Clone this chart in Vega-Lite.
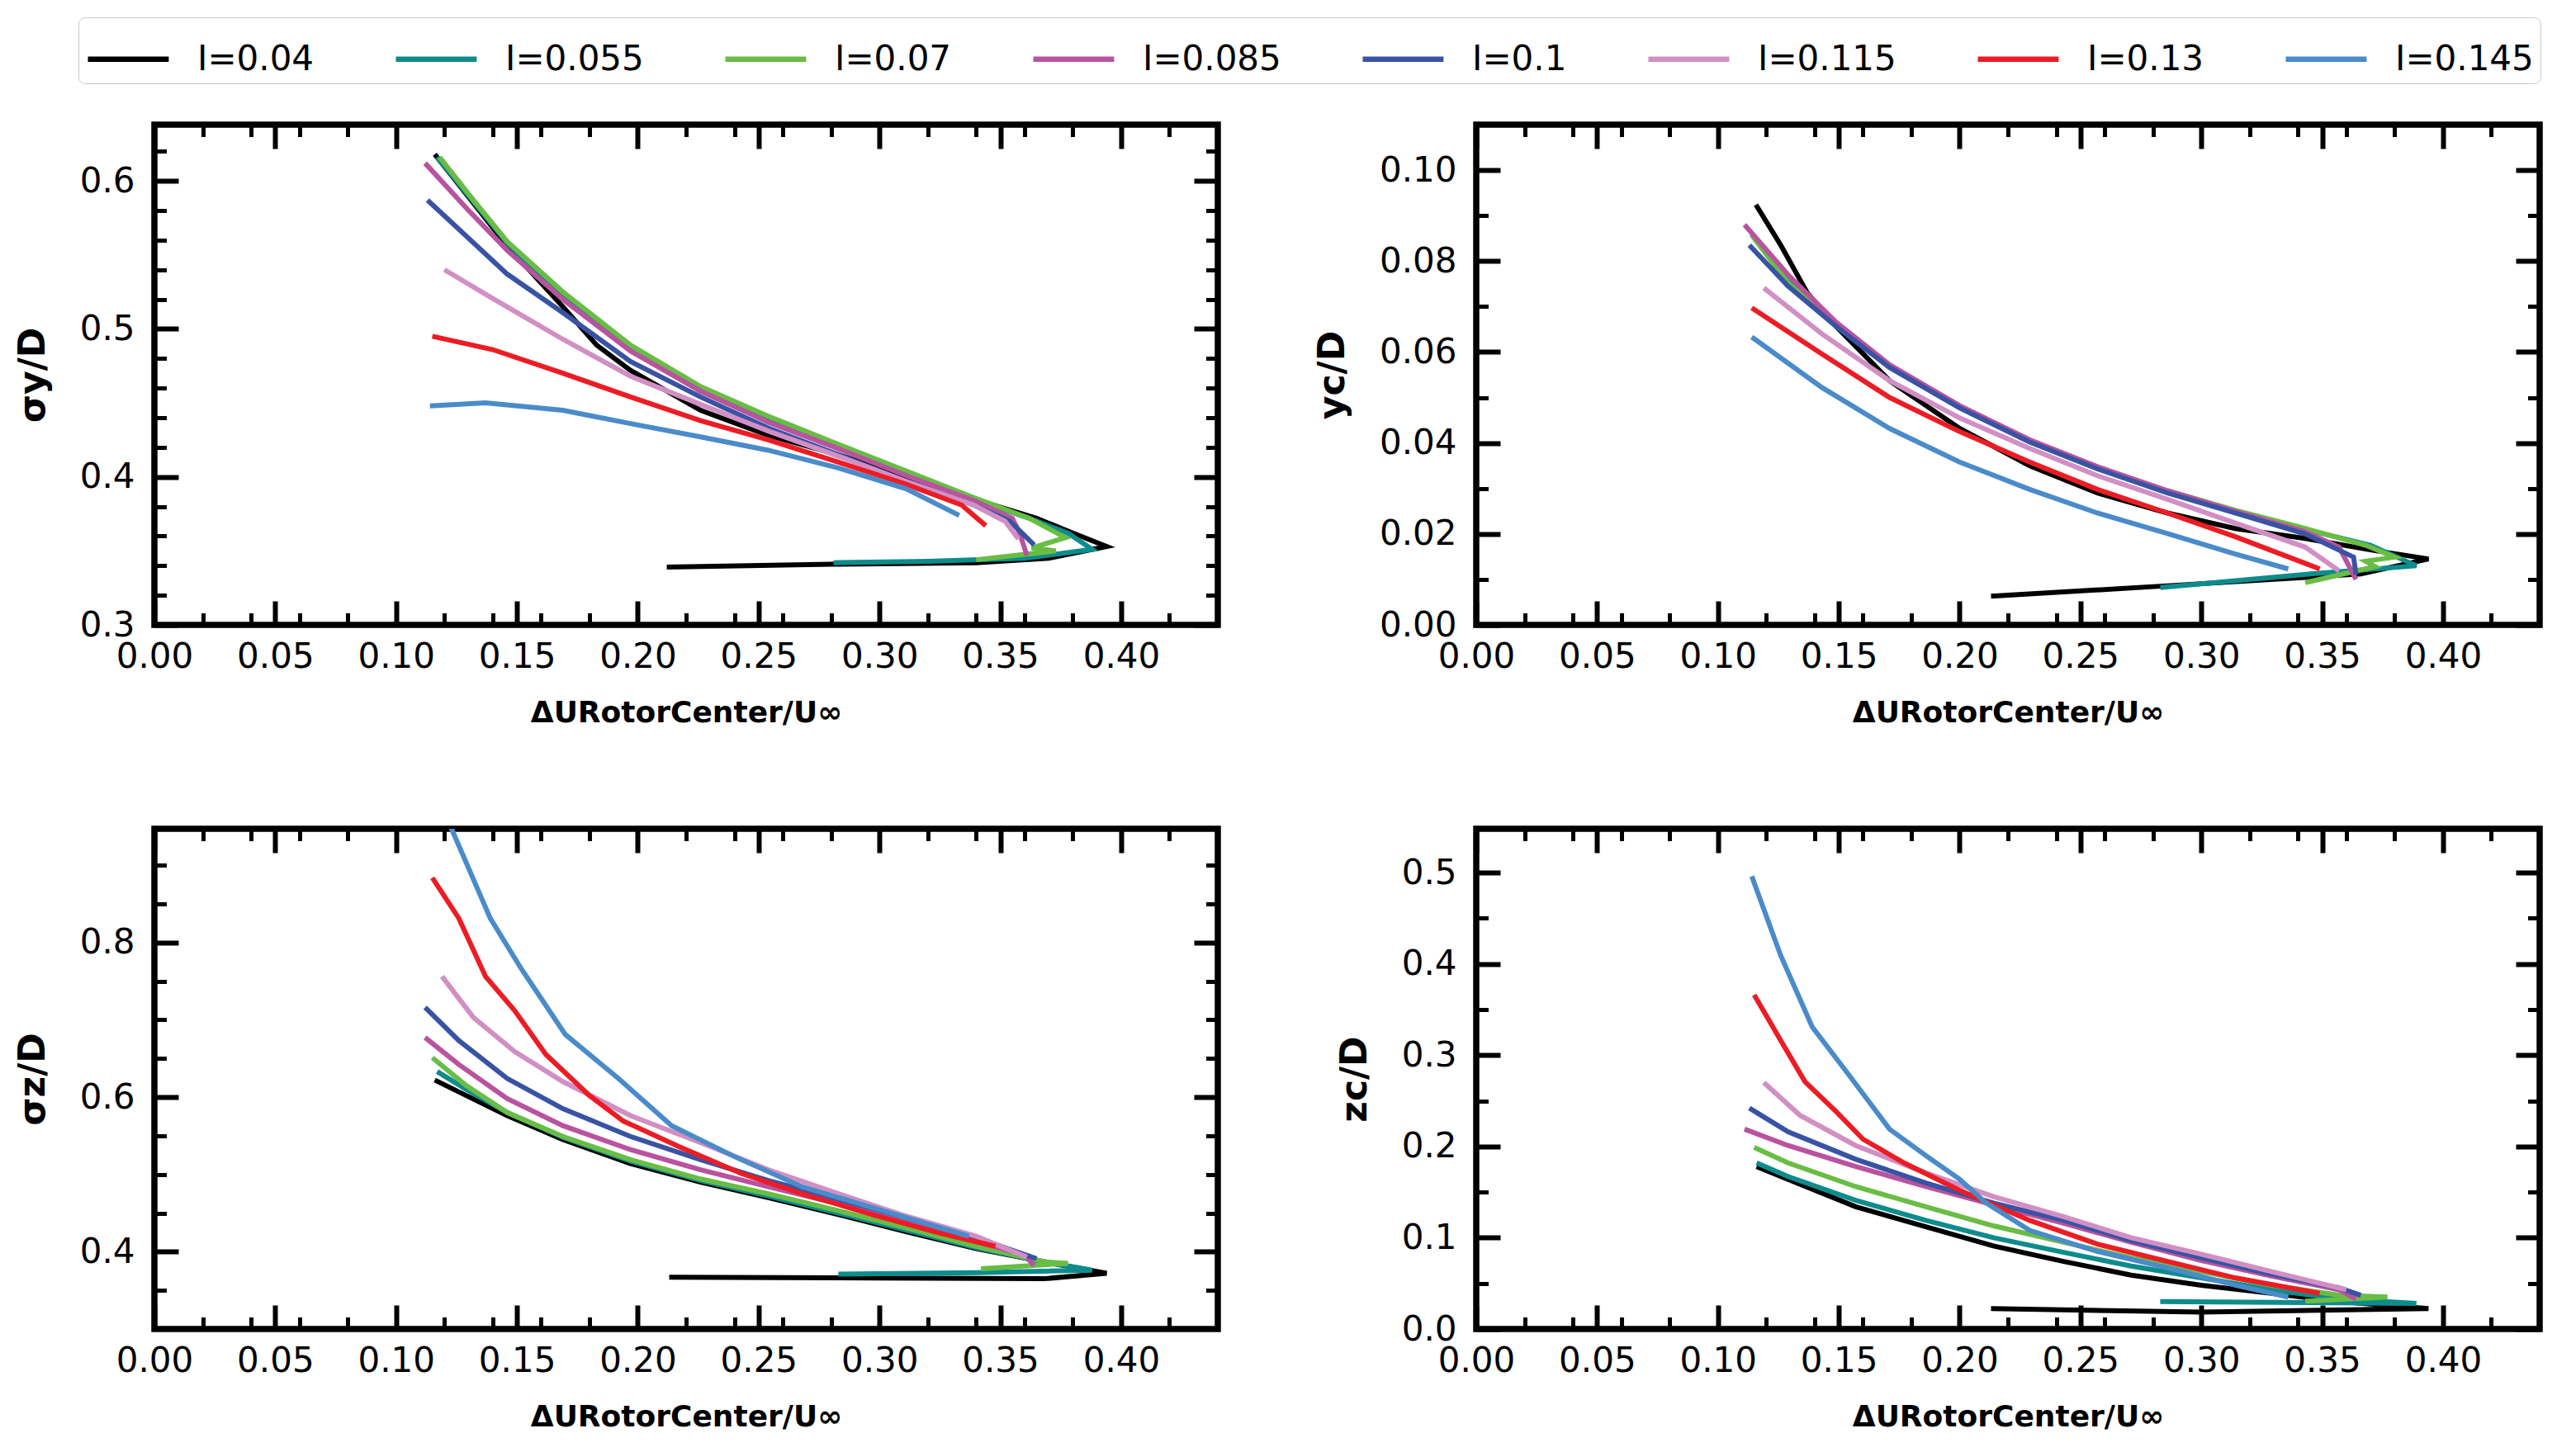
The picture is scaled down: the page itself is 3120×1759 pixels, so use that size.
{
"$schema": "https://vega.github.io/schema/vega-lite/v6.json",
"background": "white",
"padding": {"left": 14, "top": 20, "right": 0, "bottom": 0},
"data": {"values": [
{"p":"a","s":"I=0.04","k":0,"x":0.116,"y":0.618},{"p":"a","s":"I=0.04","k":1,"x":0.132,"y":0.585},{"p":"a","s":"I=0.04","k":2,"x":0.146,"y":0.556},{"p":"a","s":"I=0.04","k":3,"x":0.169,"y":0.515},{"p":"a","s":"I=0.04","k":4,"x":0.183,"y":0.489},{"p":"a","s":"I=0.04","k":5,"x":0.197,"y":0.472},{"p":"a","s":"I=0.04","k":6,"x":0.226,"y":0.445},{"p":"a","s":"I=0.04","k":7,"x":0.254,"y":0.428},{"p":"a","s":"I=0.04","k":8,"x":0.283,"y":0.415},{"p":"a","s":"I=0.04","k":9,"x":0.311,"y":0.4},{"p":"a","s":"I=0.04","k":10,"x":0.339,"y":0.385},{"p":"a","s":"I=0.04","k":11,"x":0.365,"y":0.372},{"p":"a","s":"I=0.04","k":12,"x":0.38,"y":0.362},{"p":"a","s":"I=0.04","k":13,"x":0.394,"y":0.353},{"p":"a","s":"I=0.04","k":14,"x":0.37,"y":0.345},{"p":"a","s":"I=0.04","k":15,"x":0.34,"y":0.342},{"p":"a","s":"I=0.04","k":16,"x":0.28,"y":0.341},{"p":"a","s":"I=0.04","k":17,"x":0.212,"y":0.339},
{"p":"a","s":"I=0.055","k":0,"x":0.117,"y":0.616},{"p":"a","s":"I=0.055","k":1,"x":0.132,"y":0.586},{"p":"a","s":"I=0.055","k":2,"x":0.146,"y":0.558},{"p":"a","s":"I=0.055","k":3,"x":0.169,"y":0.522},{"p":"a","s":"I=0.055","k":4,"x":0.197,"y":0.486},{"p":"a","s":"I=0.055","k":5,"x":0.226,"y":0.458},{"p":"a","s":"I=0.055","k":6,"x":0.254,"y":0.438},{"p":"a","s":"I=0.055","k":7,"x":0.283,"y":0.42},{"p":"a","s":"I=0.055","k":8,"x":0.311,"y":0.402},{"p":"a","s":"I=0.055","k":9,"x":0.339,"y":0.385},{"p":"a","s":"I=0.055","k":10,"x":0.362,"y":0.372},{"p":"a","s":"I=0.055","k":11,"x":0.378,"y":0.362},{"p":"a","s":"I=0.055","k":12,"x":0.388,"y":0.351},{"p":"a","s":"I=0.055","k":13,"x":0.36,"y":0.345},{"p":"a","s":"I=0.055","k":14,"x":0.32,"y":0.343},{"p":"a","s":"I=0.055","k":15,"x":0.281,"y":0.342},
{"p":"a","s":"I=0.07","k":0,"x":0.118,"y":0.616},{"p":"a","s":"I=0.07","k":1,"x":0.132,"y":0.587},{"p":"a","s":"I=0.07","k":2,"x":0.146,"y":0.559},{"p":"a","s":"I=0.07","k":3,"x":0.169,"y":0.525},{"p":"a","s":"I=0.07","k":4,"x":0.197,"y":0.489},{"p":"a","s":"I=0.07","k":5,"x":0.226,"y":0.461},{"p":"a","s":"I=0.07","k":6,"x":0.254,"y":0.441},{"p":"a","s":"I=0.07","k":7,"x":0.283,"y":0.422},{"p":"a","s":"I=0.07","k":8,"x":0.311,"y":0.404},{"p":"a","s":"I=0.07","k":9,"x":0.339,"y":0.386},{"p":"a","s":"I=0.07","k":10,"x":0.362,"y":0.372},{"p":"a","s":"I=0.07","k":11,"x":0.377,"y":0.359},{"p":"a","s":"I=0.07","k":12,"x":0.363,"y":0.352},{"p":"a","s":"I=0.07","k":13,"x":0.373,"y":0.35},{"p":"a","s":"I=0.07","k":14,"x":0.34,"y":0.344},
{"p":"a","s":"I=0.085","k":0,"x":0.112,"y":0.612},{"p":"a","s":"I=0.085","k":1,"x":0.13,"y":0.58},{"p":"a","s":"I=0.085","k":2,"x":0.146,"y":0.553},{"p":"a","s":"I=0.085","k":3,"x":0.169,"y":0.52},{"p":"a","s":"I=0.085","k":4,"x":0.197,"y":0.485},{"p":"a","s":"I=0.085","k":5,"x":0.226,"y":0.458},{"p":"a","s":"I=0.085","k":6,"x":0.254,"y":0.437},{"p":"a","s":"I=0.085","k":7,"x":0.283,"y":0.419},{"p":"a","s":"I=0.085","k":8,"x":0.311,"y":0.401},{"p":"a","s":"I=0.085","k":9,"x":0.339,"y":0.384},{"p":"a","s":"I=0.085","k":10,"x":0.355,"y":0.372},{"p":"a","s":"I=0.085","k":11,"x":0.358,"y":0.362},{"p":"a","s":"I=0.085","k":12,"x":0.361,"y":0.347},
{"p":"a","s":"I=0.1","k":0,"x":0.113,"y":0.587},{"p":"a","s":"I=0.1","k":1,"x":0.146,"y":0.537},{"p":"a","s":"I=0.1","k":2,"x":0.169,"y":0.511},{"p":"a","s":"I=0.1","k":3,"x":0.197,"y":0.478},{"p":"a","s":"I=0.1","k":4,"x":0.226,"y":0.454},{"p":"a","s":"I=0.1","k":5,"x":0.254,"y":0.433},{"p":"a","s":"I=0.1","k":6,"x":0.283,"y":0.415},{"p":"a","s":"I=0.1","k":7,"x":0.311,"y":0.397},{"p":"a","s":"I=0.1","k":8,"x":0.339,"y":0.381},{"p":"a","s":"I=0.1","k":9,"x":0.354,"y":0.37},{"p":"a","s":"I=0.1","k":10,"x":0.364,"y":0.354},
{"p":"a","s":"I=0.115","k":0,"x":0.12,"y":0.54},{"p":"a","s":"I=0.115","k":1,"x":0.14,"y":0.5205},{"p":"a","s":"I=0.115","k":2,"x":0.169,"y":0.493},{"p":"a","s":"I=0.115","k":3,"x":0.197,"y":0.468},{"p":"a","s":"I=0.115","k":4,"x":0.226,"y":0.449},{"p":"a","s":"I=0.115","k":5,"x":0.254,"y":0.431},{"p":"a","s":"I=0.115","k":6,"x":0.283,"y":0.414},{"p":"a","s":"I=0.115","k":7,"x":0.311,"y":0.397},{"p":"a","s":"I=0.115","k":8,"x":0.339,"y":0.381},{"p":"a","s":"I=0.115","k":9,"x":0.352,"y":0.37},{"p":"a","s":"I=0.115","k":10,"x":0.3575,"y":0.358},
{"p":"a","s":"I=0.13","k":0,"x":0.115,"y":0.495},{"p":"a","s":"I=0.13","k":1,"x":0.14,"y":0.486},{"p":"a","s":"I=0.13","k":2,"x":0.169,"y":0.47},{"p":"a","s":"I=0.13","k":3,"x":0.197,"y":0.454},{"p":"a","s":"I=0.13","k":4,"x":0.226,"y":0.438},{"p":"a","s":"I=0.13","k":5,"x":0.254,"y":0.425},{"p":"a","s":"I=0.13","k":6,"x":0.283,"y":0.41},{"p":"a","s":"I=0.13","k":7,"x":0.311,"y":0.395},{"p":"a","s":"I=0.13","k":8,"x":0.334,"y":0.381},{"p":"a","s":"I=0.13","k":9,"x":0.344,"y":0.367},
{"p":"a","s":"I=0.145","k":0,"x":0.114,"y":0.448},{"p":"a","s":"I=0.145","k":1,"x":0.137,"y":0.45},{"p":"a","s":"I=0.145","k":2,"x":0.169,"y":0.445},{"p":"a","s":"I=0.145","k":3,"x":0.197,"y":0.436},{"p":"a","s":"I=0.145","k":4,"x":0.226,"y":0.427},{"p":"a","s":"I=0.145","k":5,"x":0.254,"y":0.418},{"p":"a","s":"I=0.145","k":6,"x":0.283,"y":0.406},{"p":"a","s":"I=0.145","k":7,"x":0.311,"y":0.392},{"p":"a","s":"I=0.145","k":8,"x":0.333,"y":0.374},

{"p":"b","s":"I=0.04","k":0,"x":0.1157,"y":0.0924},{"p":"b","s":"I=0.04","k":1,"x":0.126,"y":0.0835},{"p":"b","s":"I=0.04","k":2,"x":0.137,"y":0.073},{"p":"b","s":"I=0.04","k":3,"x":0.149,"y":0.0656},{"p":"b","s":"I=0.04","k":4,"x":0.171,"y":0.0537},{"p":"b","s":"I=0.04","k":5,"x":0.2,"y":0.0432},{"p":"b","s":"I=0.04","k":6,"x":0.229,"y":0.035},{"p":"b","s":"I=0.04","k":7,"x":0.257,"y":0.029},{"p":"b","s":"I=0.04","k":8,"x":0.286,"y":0.0246},{"p":"b","s":"I=0.04","k":9,"x":0.314,"y":0.0212},{"p":"b","s":"I=0.04","k":10,"x":0.343,"y":0.019},{"p":"b","s":"I=0.04","k":11,"x":0.371,"y":0.0164},{"p":"b","s":"I=0.04","k":12,"x":0.394,"y":0.0145},{"p":"b","s":"I=0.04","k":13,"x":0.366,"y":0.0112},{"p":"b","s":"I=0.04","k":14,"x":0.286,"y":0.0086},{"p":"b","s":"I=0.04","k":15,"x":0.213,"y":0.0063},
{"p":"b","s":"I=0.055","k":0,"x":0.114,"y":0.086},{"p":"b","s":"I=0.055","k":1,"x":0.129,"y":0.0755},{"p":"b","s":"I=0.055","k":2,"x":0.149,"y":0.066},{"p":"b","s":"I=0.055","k":3,"x":0.171,"y":0.0568},{"p":"b","s":"I=0.055","k":4,"x":0.2,"y":0.0478},{"p":"b","s":"I=0.055","k":5,"x":0.229,"y":0.0403},{"p":"b","s":"I=0.055","k":6,"x":0.257,"y":0.0345},{"p":"b","s":"I=0.055","k":7,"x":0.286,"y":0.0293},{"p":"b","s":"I=0.055","k":8,"x":0.314,"y":0.025},{"p":"b","s":"I=0.055","k":9,"x":0.343,"y":0.021},{"p":"b","s":"I=0.055","k":10,"x":0.37,"y":0.0175},{"p":"b","s":"I=0.055","k":11,"x":0.389,"y":0.013},{"p":"b","s":"I=0.055","k":12,"x":0.345,"y":0.0112},{"p":"b","s":"I=0.055","k":13,"x":0.283,"y":0.0082},
{"p":"b","s":"I=0.07","k":0,"x":0.114,"y":0.0857},{"p":"b","s":"I=0.07","k":1,"x":0.129,"y":0.0752},{"p":"b","s":"I=0.07","k":2,"x":0.149,"y":0.066},{"p":"b","s":"I=0.07","k":3,"x":0.171,"y":0.057},{"p":"b","s":"I=0.07","k":4,"x":0.2,"y":0.048},{"p":"b","s":"I=0.07","k":5,"x":0.229,"y":0.0405},{"p":"b","s":"I=0.07","k":6,"x":0.257,"y":0.0347},{"p":"b","s":"I=0.07","k":7,"x":0.286,"y":0.0295},{"p":"b","s":"I=0.07","k":8,"x":0.314,"y":0.0252},{"p":"b","s":"I=0.07","k":9,"x":0.343,"y":0.0212},{"p":"b","s":"I=0.07","k":10,"x":0.368,"y":0.0175},{"p":"b","s":"I=0.07","k":11,"x":0.38,"y":0.0149},{"p":"b","s":"I=0.07","k":12,"x":0.368,"y":0.014},{"p":"b","s":"I=0.07","k":13,"x":0.372,"y":0.0128},{"p":"b","s":"I=0.07","k":14,"x":0.343,"y":0.0093},
{"p":"b","s":"I=0.085","k":0,"x":0.111,"y":0.088},{"p":"b","s":"I=0.085","k":1,"x":0.129,"y":0.077},{"p":"b","s":"I=0.085","k":2,"x":0.149,"y":0.0665},{"p":"b","s":"I=0.085","k":3,"x":0.171,"y":0.0572},{"p":"b","s":"I=0.085","k":4,"x":0.2,"y":0.0482},{"p":"b","s":"I=0.085","k":5,"x":0.229,"y":0.0407},{"p":"b","s":"I=0.085","k":6,"x":0.257,"y":0.0348},{"p":"b","s":"I=0.085","k":7,"x":0.286,"y":0.0295},{"p":"b","s":"I=0.085","k":8,"x":0.314,"y":0.025},{"p":"b","s":"I=0.085","k":9,"x":0.343,"y":0.0205},{"p":"b","s":"I=0.085","k":10,"x":0.357,"y":0.0171},{"p":"b","s":"I=0.085","k":11,"x":0.364,"y":0.01},
{"p":"b","s":"I=0.1","k":0,"x":0.113,"y":0.0835},{"p":"b","s":"I=0.1","k":1,"x":0.129,"y":0.0745},{"p":"b","s":"I=0.1","k":2,"x":0.149,"y":0.0656},{"p":"b","s":"I=0.1","k":3,"x":0.171,"y":0.0566},{"p":"b","s":"I=0.1","k":4,"x":0.2,"y":0.0477},{"p":"b","s":"I=0.1","k":5,"x":0.229,"y":0.0402},{"p":"b","s":"I=0.1","k":6,"x":0.257,"y":0.0343},{"p":"b","s":"I=0.1","k":7,"x":0.286,"y":0.029},{"p":"b","s":"I=0.1","k":8,"x":0.314,"y":0.0246},{"p":"b","s":"I=0.1","k":9,"x":0.343,"y":0.02},{"p":"b","s":"I=0.1","k":10,"x":0.363,"y":0.0149},{"p":"b","s":"I=0.1","k":11,"x":0.364,"y":0.0111},
{"p":"b","s":"I=0.115","k":0,"x":0.119,"y":0.0741},{"p":"b","s":"I=0.115","k":1,"x":0.143,"y":0.064},{"p":"b","s":"I=0.115","k":2,"x":0.171,"y":0.0537},{"p":"b","s":"I=0.115","k":3,"x":0.2,"y":0.0455},{"p":"b","s":"I=0.115","k":4,"x":0.229,"y":0.0388},{"p":"b","s":"I=0.115","k":5,"x":0.257,"y":0.0328},{"p":"b","s":"I=0.115","k":6,"x":0.286,"y":0.0276},{"p":"b","s":"I=0.115","k":7,"x":0.314,"y":0.0224},{"p":"b","s":"I=0.115","k":8,"x":0.343,"y":0.0171},{"p":"b","s":"I=0.115","k":9,"x":0.357,"y":0.0119},
{"p":"b","s":"I=0.13","k":0,"x":0.114,"y":0.0697},{"p":"b","s":"I=0.13","k":1,"x":0.143,"y":0.0596},{"p":"b","s":"I=0.13","k":2,"x":0.171,"y":0.05},{"p":"b","s":"I=0.13","k":3,"x":0.2,"y":0.0425},{"p":"b","s":"I=0.13","k":4,"x":0.229,"y":0.0358},{"p":"b","s":"I=0.13","k":5,"x":0.257,"y":0.0298},{"p":"b","s":"I=0.13","k":6,"x":0.286,"y":0.0246},{"p":"b","s":"I=0.13","k":7,"x":0.314,"y":0.0194},{"p":"b","s":"I=0.13","k":8,"x":0.349,"y":0.0123},
{"p":"b","s":"I=0.145","k":0,"x":0.114,"y":0.0633},{"p":"b","s":"I=0.145","k":1,"x":0.143,"y":0.0522},{"p":"b","s":"I=0.145","k":2,"x":0.171,"y":0.0432},{"p":"b","s":"I=0.145","k":3,"x":0.2,"y":0.0358},{"p":"b","s":"I=0.145","k":4,"x":0.229,"y":0.0298},{"p":"b","s":"I=0.145","k":5,"x":0.257,"y":0.0246},{"p":"b","s":"I=0.145","k":6,"x":0.286,"y":0.0201},{"p":"b","s":"I=0.145","k":7,"x":0.314,"y":0.0156},{"p":"b","s":"I=0.145","k":8,"x":0.336,"y":0.0123},

{"p":"c","s":"I=0.04","k":0,"x":0.116,"y":0.622},{"p":"c","s":"I=0.04","k":1,"x":0.129,"y":0.602},{"p":"c","s":"I=0.04","k":2,"x":0.146,"y":0.576},{"p":"c","s":"I=0.04","k":3,"x":0.169,"y":0.545},{"p":"c","s":"I=0.04","k":4,"x":0.197,"y":0.514},{"p":"c","s":"I=0.04","k":5,"x":0.226,"y":0.49},{"p":"c","s":"I=0.04","k":6,"x":0.254,"y":0.47},{"p":"c","s":"I=0.04","k":7,"x":0.283,"y":0.448},{"p":"c","s":"I=0.04","k":8,"x":0.311,"y":0.426},{"p":"c","s":"I=0.04","k":9,"x":0.34,"y":0.404},{"p":"c","s":"I=0.04","k":10,"x":0.368,"y":0.387},{"p":"c","s":"I=0.04","k":11,"x":0.394,"y":0.372},{"p":"c","s":"I=0.04","k":12,"x":0.368,"y":0.365},{"p":"c","s":"I=0.04","k":13,"x":0.3,"y":0.366},{"p":"c","s":"I=0.04","k":14,"x":0.213,"y":0.367},
{"p":"c","s":"I=0.055","k":0,"x":0.117,"y":0.633},{"p":"c","s":"I=0.055","k":1,"x":0.129,"y":0.61},{"p":"c","s":"I=0.055","k":2,"x":0.146,"y":0.58},{"p":"c","s":"I=0.055","k":3,"x":0.169,"y":0.548},{"p":"c","s":"I=0.055","k":4,"x":0.197,"y":0.517},{"p":"c","s":"I=0.055","k":5,"x":0.226,"y":0.492},{"p":"c","s":"I=0.055","k":6,"x":0.254,"y":0.472},{"p":"c","s":"I=0.055","k":7,"x":0.283,"y":0.45},{"p":"c","s":"I=0.055","k":8,"x":0.311,"y":0.428},{"p":"c","s":"I=0.055","k":9,"x":0.34,"y":0.405},{"p":"c","s":"I=0.055","k":10,"x":0.368,"y":0.387},{"p":"c","s":"I=0.055","k":11,"x":0.388,"y":0.376},{"p":"c","s":"I=0.055","k":12,"x":0.34,"y":0.373},{"p":"c","s":"I=0.055","k":13,"x":0.283,"y":0.371},
{"p":"c","s":"I=0.07","k":0,"x":0.115,"y":0.651},{"p":"c","s":"I=0.07","k":1,"x":0.129,"y":0.615},{"p":"c","s":"I=0.07","k":2,"x":0.146,"y":0.58},{"p":"c","s":"I=0.07","k":3,"x":0.169,"y":0.549},{"p":"c","s":"I=0.07","k":4,"x":0.197,"y":0.519},{"p":"c","s":"I=0.07","k":5,"x":0.226,"y":0.494},{"p":"c","s":"I=0.07","k":6,"x":0.254,"y":0.475},{"p":"c","s":"I=0.07","k":7,"x":0.283,"y":0.453},{"p":"c","s":"I=0.07","k":8,"x":0.311,"y":0.431},{"p":"c","s":"I=0.07","k":9,"x":0.34,"y":0.407},{"p":"c","s":"I=0.07","k":10,"x":0.368,"y":0.387},{"p":"c","s":"I=0.07","k":11,"x":0.378,"y":0.385},{"p":"c","s":"I=0.07","k":12,"x":0.342,"y":0.378},
{"p":"c","s":"I=0.085","k":0,"x":0.112,"y":0.677},{"p":"c","s":"I=0.085","k":1,"x":0.126,"y":0.642},{"p":"c","s":"I=0.085","k":2,"x":0.146,"y":0.598},{"p":"c","s":"I=0.085","k":3,"x":0.169,"y":0.563},{"p":"c","s":"I=0.085","k":4,"x":0.197,"y":0.532},{"p":"c","s":"I=0.085","k":5,"x":0.226,"y":0.506},{"p":"c","s":"I=0.085","k":6,"x":0.254,"y":0.484},{"p":"c","s":"I=0.085","k":7,"x":0.283,"y":0.462},{"p":"c","s":"I=0.085","k":8,"x":0.311,"y":0.44},{"p":"c","s":"I=0.085","k":9,"x":0.34,"y":0.413},{"p":"c","s":"I=0.085","k":10,"x":0.36,"y":0.396},{"p":"c","s":"I=0.085","k":11,"x":0.364,"y":0.382},
{"p":"c","s":"I=0.1","k":0,"x":0.112,"y":0.716},{"p":"c","s":"I=0.1","k":1,"x":0.126,"y":0.673},{"p":"c","s":"I=0.1","k":2,"x":0.146,"y":0.624},{"p":"c","s":"I=0.1","k":3,"x":0.169,"y":0.585},{"p":"c","s":"I=0.1","k":4,"x":0.197,"y":0.549},{"p":"c","s":"I=0.1","k":5,"x":0.226,"y":0.519},{"p":"c","s":"I=0.1","k":6,"x":0.254,"y":0.492},{"p":"c","s":"I=0.1","k":7,"x":0.283,"y":0.468},{"p":"c","s":"I=0.1","k":8,"x":0.311,"y":0.444},{"p":"c","s":"I=0.1","k":9,"x":0.34,"y":0.418},{"p":"c","s":"I=0.1","k":10,"x":0.365,"y":0.391},
{"p":"c","s":"I=0.115","k":0,"x":0.119,"y":0.756},{"p":"c","s":"I=0.115","k":1,"x":0.132,"y":0.703},{"p":"c","s":"I=0.115","k":2,"x":0.149,"y":0.659},{"p":"c","s":"I=0.115","k":3,"x":0.169,"y":0.62},{"p":"c","s":"I=0.115","k":4,"x":0.197,"y":0.576},{"p":"c","s":"I=0.115","k":5,"x":0.226,"y":0.541},{"p":"c","s":"I=0.115","k":6,"x":0.254,"y":0.506},{"p":"c","s":"I=0.115","k":7,"x":0.283,"y":0.475},{"p":"c","s":"I=0.115","k":8,"x":0.311,"y":0.446},{"p":"c","s":"I=0.115","k":9,"x":0.34,"y":0.42},{"p":"c","s":"I=0.115","k":10,"x":0.361,"y":0.393},
{"p":"c","s":"I=0.13","k":0,"x":0.115,"y":0.8835},{"p":"c","s":"I=0.13","k":1,"x":0.126,"y":0.831},{"p":"c","s":"I=0.13","k":2,"x":0.137,"y":0.756},{"p":"c","s":"I=0.13","k":3,"x":0.149,"y":0.712},{"p":"c","s":"I=0.13","k":4,"x":0.162,"y":0.655},{"p":"c","s":"I=0.13","k":5,"x":0.18,"y":0.602},{"p":"c","s":"I=0.13","k":6,"x":0.194,"y":0.569},{"p":"c","s":"I=0.13","k":7,"x":0.217,"y":0.536},{"p":"c","s":"I=0.13","k":8,"x":0.243,"y":0.501},{"p":"c","s":"I=0.13","k":9,"x":0.268,"y":0.475},{"p":"c","s":"I=0.13","k":10,"x":0.297,"y":0.448},{"p":"c","s":"I=0.13","k":11,"x":0.325,"y":0.424},{"p":"c","s":"I=0.13","k":12,"x":0.348,"y":0.407},
{"p":"c","s":"I=0.145","k":0,"x":0.117,"y":0.99},{"p":"c","s":"I=0.145","k":1,"x":0.139,"y":0.831},{"p":"c","s":"I=0.145","k":2,"x":0.152,"y":0.765},{"p":"c","s":"I=0.145","k":3,"x":0.17,"y":0.681},{"p":"c","s":"I=0.145","k":4,"x":0.192,"y":0.624},{"p":"c","s":"I=0.145","k":5,"x":0.214,"y":0.563},{"p":"c","s":"I=0.145","k":6,"x":0.24,"y":0.523},{"p":"c","s":"I=0.145","k":7,"x":0.268,"y":0.484},{"p":"c","s":"I=0.145","k":8,"x":0.297,"y":0.457},{"p":"c","s":"I=0.145","k":9,"x":0.337,"y":0.42},

{"p":"d","s":"I=0.04","k":0,"x":0.116,"y":0.178},{"p":"d","s":"I=0.04","k":1,"x":0.129,"y":0.164},{"p":"d","s":"I=0.04","k":2,"x":0.157,"y":0.134},{"p":"d","s":"I=0.04","k":3,"x":0.186,"y":0.112},{"p":"d","s":"I=0.04","k":4,"x":0.214,"y":0.091},{"p":"d","s":"I=0.04","k":5,"x":0.243,"y":0.074},{"p":"d","s":"I=0.04","k":6,"x":0.271,"y":0.059},{"p":"d","s":"I=0.04","k":7,"x":0.3,"y":0.048},{"p":"d","s":"I=0.04","k":8,"x":0.329,"y":0.039},{"p":"d","s":"I=0.04","k":9,"x":0.357,"y":0.03},{"p":"d","s":"I=0.04","k":10,"x":0.394,"y":0.0223},{"p":"d","s":"I=0.04","k":11,"x":0.3,"y":0.0186},{"p":"d","s":"I=0.04","k":12,"x":0.213,"y":0.0223},
{"p":"d","s":"I=0.055","k":0,"x":0.116,"y":0.182},{"p":"d","s":"I=0.055","k":1,"x":0.129,"y":0.167},{"p":"d","s":"I=0.055","k":2,"x":0.157,"y":0.141},{"p":"d","s":"I=0.055","k":3,"x":0.186,"y":0.119},{"p":"d","s":"I=0.055","k":4,"x":0.214,"y":0.1},{"p":"d","s":"I=0.055","k":5,"x":0.243,"y":0.084},{"p":"d","s":"I=0.055","k":6,"x":0.271,"y":0.069},{"p":"d","s":"I=0.055","k":7,"x":0.3,"y":0.056},{"p":"d","s":"I=0.055","k":8,"x":0.329,"y":0.043},{"p":"d","s":"I=0.055","k":9,"x":0.357,"y":0.033},{"p":"d","s":"I=0.055","k":10,"x":0.389,"y":0.028},{"p":"d","s":"I=0.055","k":11,"x":0.283,"y":0.03},
{"p":"d","s":"I=0.07","k":0,"x":0.115,"y":0.199},{"p":"d","s":"I=0.07","k":1,"x":0.129,"y":0.182},{"p":"d","s":"I=0.07","k":2,"x":0.157,"y":0.156},{"p":"d","s":"I=0.07","k":3,"x":0.186,"y":0.134},{"p":"d","s":"I=0.07","k":4,"x":0.214,"y":0.113},{"p":"d","s":"I=0.07","k":5,"x":0.243,"y":0.095},{"p":"d","s":"I=0.07","k":6,"x":0.271,"y":0.078},{"p":"d","s":"I=0.07","k":7,"x":0.3,"y":0.063},{"p":"d","s":"I=0.07","k":8,"x":0.329,"y":0.048},{"p":"d","s":"I=0.07","k":9,"x":0.357,"y":0.037},{"p":"d","s":"I=0.07","k":10,"x":0.377,"y":0.035},{"p":"d","s":"I=0.07","k":11,"x":0.343,"y":0.0305},
{"p":"d","s":"I=0.085","k":0,"x":0.111,"y":0.219},{"p":"d","s":"I=0.085","k":1,"x":0.129,"y":0.201},{"p":"d","s":"I=0.085","k":2,"x":0.157,"y":0.178},{"p":"d","s":"I=0.085","k":3,"x":0.186,"y":0.156},{"p":"d","s":"I=0.085","k":4,"x":0.214,"y":0.136},{"p":"d","s":"I=0.085","k":5,"x":0.243,"y":0.116},{"p":"d","s":"I=0.085","k":6,"x":0.271,"y":0.095},{"p":"d","s":"I=0.085","k":7,"x":0.3,"y":0.075},{"p":"d","s":"I=0.085","k":8,"x":0.329,"y":0.058},{"p":"d","s":"I=0.085","k":9,"x":0.357,"y":0.043},{"p":"d","s":"I=0.085","k":10,"x":0.364,"y":0.033},
{"p":"d","s":"I=0.1","k":0,"x":0.113,"y":0.242},{"p":"d","s":"I=0.1","k":1,"x":0.129,"y":0.216},{"p":"d","s":"I=0.1","k":2,"x":0.157,"y":0.186},{"p":"d","s":"I=0.1","k":3,"x":0.186,"y":0.16},{"p":"d","s":"I=0.1","k":4,"x":0.214,"y":0.138},{"p":"d","s":"I=0.1","k":5,"x":0.243,"y":0.119},{"p":"d","s":"I=0.1","k":6,"x":0.271,"y":0.097},{"p":"d","s":"I=0.1","k":7,"x":0.3,"y":0.078},{"p":"d","s":"I=0.1","k":8,"x":0.329,"y":0.06},{"p":"d","s":"I=0.1","k":9,"x":0.357,"y":0.045},{"p":"d","s":"I=0.1","k":10,"x":0.366,"y":0.037},
{"p":"d","s":"I=0.115","k":0,"x":0.119,"y":0.27},{"p":"d","s":"I=0.115","k":1,"x":0.134,"y":0.234},{"p":"d","s":"I=0.115","k":2,"x":0.157,"y":0.201},{"p":"d","s":"I=0.115","k":3,"x":0.186,"y":0.171},{"p":"d","s":"I=0.115","k":4,"x":0.214,"y":0.145},{"p":"d","s":"I=0.115","k":5,"x":0.243,"y":0.123},{"p":"d","s":"I=0.115","k":6,"x":0.271,"y":0.1},{"p":"d","s":"I=0.115","k":7,"x":0.3,"y":0.082},{"p":"d","s":"I=0.115","k":8,"x":0.329,"y":0.063},{"p":"d","s":"I=0.115","k":9,"x":0.36,"y":0.043},
{"p":"d","s":"I=0.13","k":0,"x":0.115,"y":0.366},{"p":"d","s":"I=0.13","k":1,"x":0.126,"y":0.316},{"p":"d","s":"I=0.13","k":2,"x":0.136,"y":0.271},{"p":"d","s":"I=0.13","k":3,"x":0.149,"y":0.238},{"p":"d","s":"I=0.13","k":4,"x":0.16,"y":0.208},{"p":"d","s":"I=0.13","k":5,"x":0.177,"y":0.182},{"p":"d","s":"I=0.13","k":6,"x":0.2,"y":0.152},{"p":"d","s":"I=0.13","k":7,"x":0.229,"y":0.119},{"p":"d","s":"I=0.13","k":8,"x":0.257,"y":0.093},{"p":"d","s":"I=0.13","k":9,"x":0.286,"y":0.074},{"p":"d","s":"I=0.13","k":10,"x":0.314,"y":0.056},{"p":"d","s":"I=0.13","k":11,"x":0.349,"y":0.039},
{"p":"d","s":"I=0.145","k":0,"x":0.114,"y":0.496},{"p":"d","s":"I=0.145","k":1,"x":0.126,"y":0.409},{"p":"d","s":"I=0.145","k":2,"x":0.139,"y":0.331},{"p":"d","s":"I=0.145","k":3,"x":0.154,"y":0.279},{"p":"d","s":"I=0.145","k":4,"x":0.171,"y":0.219},{"p":"d","s":"I=0.145","k":5,"x":0.186,"y":0.19},{"p":"d","s":"I=0.145","k":6,"x":0.2,"y":0.164},{"p":"d","s":"I=0.145","k":7,"x":0.211,"y":0.138},{"p":"d","s":"I=0.145","k":8,"x":0.229,"y":0.108},{"p":"d","s":"I=0.145","k":9,"x":0.257,"y":0.085},{"p":"d","s":"I=0.145","k":10,"x":0.286,"y":0.067},{"p":"d","s":"I=0.145","k":11,"x":0.314,"y":0.048},{"p":"d","s":"I=0.145","k":12,"x":0.336,"y":0.035}
]},
"columns": 2,
"spacing": {"row": 247, "column": 313},
"bounds": "flush",
"resolve": {"scale": {"color": "shared"}, "legend": {"color": "shared"}},
"concat": [
{"width": 1288, "height": 606, "transform": [{"filter": "datum.p == 'a'"}],
 "resolve": {"axis": {"x": "independent", "y": "independent"}},
 "layer": [
  {"mark": {"type": "line", "strokeWidth": 6, "clip": true},
   "encoding": {
    "x": {"field": "x", "type": "quantitative", "scale": {"domain": [0, 0.44], "nice": false, "zero": false}, "axis": {"orient": "bottom", "values": [0,0.05,0.1,0.15,0.2,0.25,0.3,0.35,0.4], "format": ".2f", "tickSize": -29, "tickWidth": 6, "labelPadding": 47, "title": "ΔURotorCenter/U∞", "titleFontSize": 36, "titlePadding": 30}},
    "y": {"field": "y", "type": "quantitative", "scale": {"domain": [0.3, 0.638], "nice": false, "zero": false}, "axis": {"orient": "left", "values": [0.3,0.4,0.5,0.6], "format": ".1f", "tickSize": -29, "tickWidth": 6, "labelPadding": 53, "title": "σy/D", "titleFontSize": 44, "titlePadding": 34}},
    "color": {"field": "s", "type": "nominal", "scale": {"domain": ["I=0.04","I=0.055","I=0.07","I=0.085","I=0.1","I=0.115","I=0.13","I=0.145"], "range": ["#000000","#0e8c8c","#69bd45","#b9539f","#3953a4","#d18fc4","#ed1c24","#4a8bca"]}, "legend": {"title": null, "orient": "none", "legendX": -92, "legendY": -130, "direction": "horizontal", "columns": 8, "symbolType": "M-1,0L1.51,0", "symbolSize": 6084, "symbolStrokeWidth": 6.5, "labelFontSize": 42, "labelFont": "DejaVu Sans", "labelColor": "black", "labelLimit": 400, "columnPadding": 85, "labelOffset": 51, "padding": 8, "strokeColor": "#c8c8c8", "fillColor": "white", "cornerRadius": 8}},
    "order": {"field": "k", "type": "quantitative"}}},
  {"mark": {"type": "point", "opacity": 0},
   "encoding": {
    "x": {"field": "x", "type": "quantitative", "scale": {"domain": [0, 0.44], "nice": false, "zero": false}, "axis": {"orient": "bottom", "values": [0.02,0.04,0.06,0.08,0.12,0.14,0.16,0.18,0.22,0.24,0.26,0.28,0.32,0.34,0.36,0.38,0.42], "labels": false, "tickSize": -14.5, "tickWidth": 5, "title": null}},
    "y": {"field": "y", "type": "quantitative", "scale": {"domain": [0.3, 0.638], "nice": false, "zero": false}, "axis": {"orient": "left", "values": [0.32,0.34,0.36,0.38,0.42,0.44,0.46,0.48,0.52,0.54,0.56,0.58,0.62], "labels": false, "tickSize": -14.5, "tickWidth": 5, "title": null}}}},
  {"mark": {"type": "point", "opacity": 0},
   "encoding": {
    "x": {"field": "x", "type": "quantitative", "scale": {"domain": [0, 0.44], "nice": false, "zero": false}, "axis": {"orient": "top", "values": [0,0.05,0.1,0.15,0.2,0.25,0.3,0.35,0.4], "labels": false, "tickSize": -29, "tickWidth": 6, "title": null}},
    "y": {"field": "y", "type": "quantitative", "scale": {"domain": [0.3, 0.638], "nice": false, "zero": false}, "axis": {"orient": "right", "values": [0.3,0.4,0.5,0.6], "labels": false, "tickSize": -29, "tickWidth": 6, "title": null}}}},
  {"mark": {"type": "point", "opacity": 0},
   "encoding": {
    "x": {"field": "x", "type": "quantitative", "scale": {"domain": [0, 0.44], "nice": false, "zero": false}, "axis": {"orient": "top", "values": [0.02,0.04,0.06,0.08,0.12,0.14,0.16,0.18,0.22,0.24,0.26,0.28,0.32,0.34,0.36,0.38,0.42], "labels": false, "tickSize": -14.5, "tickWidth": 5, "title": null}},
    "y": {"field": "y", "type": "quantitative", "scale": {"domain": [0.3, 0.638], "nice": false, "zero": false}, "axis": {"orient": "right", "values": [0.32,0.34,0.36,0.38,0.42,0.44,0.46,0.48,0.52,0.54,0.56,0.58,0.62], "labels": false, "tickSize": -14.5, "tickWidth": 5, "title": null}}}}
 ]},
{"width": 1288, "height": 606, "transform": [{"filter": "datum.p == 'b'"}],
 "resolve": {"axis": {"x": "independent", "y": "independent"}},
 "layer": [
  {"mark": {"type": "line", "strokeWidth": 6, "clip": true},
   "encoding": {
    "x": {"field": "x", "type": "quantitative", "scale": {"domain": [0, 0.44], "nice": false, "zero": false}, "axis": {"orient": "bottom", "values": [0,0.05,0.1,0.15,0.2,0.25,0.3,0.35,0.4], "format": ".2f", "tickSize": -29, "tickWidth": 6, "labelPadding": 47, "title": "ΔURotorCenter/U∞", "titleFontSize": 36, "titlePadding": 30}},
    "y": {"field": "y", "type": "quantitative", "scale": {"domain": [0, 0.11], "nice": false, "zero": false}, "axis": {"orient": "left", "values": [0,0.02,0.04,0.06,0.08,0.1], "format": ".2f", "tickSize": -29, "tickWidth": 6, "labelPadding": 53, "title": "yc/D", "titleFontSize": 44, "titlePadding": 34}},
    "color": {"field": "s", "type": "nominal", "scale": {"domain": ["I=0.04","I=0.055","I=0.07","I=0.085","I=0.1","I=0.115","I=0.13","I=0.145"], "range": ["#000000","#0e8c8c","#69bd45","#b9539f","#3953a4","#d18fc4","#ed1c24","#4a8bca"]}, "legend": {"title": null, "orient": "none", "legendX": -92, "legendY": -130, "direction": "horizontal", "columns": 8, "symbolType": "M-1,0L1.51,0", "symbolSize": 6084, "symbolStrokeWidth": 6.5, "labelFontSize": 42, "labelFont": "DejaVu Sans", "labelColor": "black", "labelLimit": 400, "columnPadding": 85, "labelOffset": 51, "padding": 8, "strokeColor": "#c8c8c8", "fillColor": "white", "cornerRadius": 8}},
    "order": {"field": "k", "type": "quantitative"}}},
  {"mark": {"type": "point", "opacity": 0},
   "encoding": {
    "x": {"field": "x", "type": "quantitative", "scale": {"domain": [0, 0.44], "nice": false, "zero": false}, "axis": {"orient": "bottom", "values": [0.02,0.04,0.06,0.08,0.12,0.14,0.16,0.18,0.22,0.24,0.26,0.28,0.32,0.34,0.36,0.38,0.42], "labels": false, "tickSize": -14.5, "tickWidth": 5, "title": null}},
    "y": {"field": "y", "type": "quantitative", "scale": {"domain": [0, 0.11], "nice": false, "zero": false}, "axis": {"orient": "left", "values": [0.01,0.03,0.05,0.07,0.09], "labels": false, "tickSize": -14.5, "tickWidth": 5, "title": null}}}},
  {"mark": {"type": "point", "opacity": 0},
   "encoding": {
    "x": {"field": "x", "type": "quantitative", "scale": {"domain": [0, 0.44], "nice": false, "zero": false}, "axis": {"orient": "top", "values": [0,0.05,0.1,0.15,0.2,0.25,0.3,0.35,0.4], "labels": false, "tickSize": -29, "tickWidth": 6, "title": null}},
    "y": {"field": "y", "type": "quantitative", "scale": {"domain": [0, 0.11], "nice": false, "zero": false}, "axis": {"orient": "right", "values": [0,0.02,0.04,0.06,0.08,0.1], "labels": false, "tickSize": -29, "tickWidth": 6, "title": null}}}},
  {"mark": {"type": "point", "opacity": 0},
   "encoding": {
    "x": {"field": "x", "type": "quantitative", "scale": {"domain": [0, 0.44], "nice": false, "zero": false}, "axis": {"orient": "top", "values": [0.02,0.04,0.06,0.08,0.12,0.14,0.16,0.18,0.22,0.24,0.26,0.28,0.32,0.34,0.36,0.38,0.42], "labels": false, "tickSize": -14.5, "tickWidth": 5, "title": null}},
    "y": {"field": "y", "type": "quantitative", "scale": {"domain": [0, 0.11], "nice": false, "zero": false}, "axis": {"orient": "right", "values": [0.01,0.03,0.05,0.07,0.09], "labels": false, "tickSize": -14.5, "tickWidth": 5, "title": null}}}}
 ]},
{"width": 1288, "height": 606, "transform": [{"filter": "datum.p == 'c'"}],
 "resolve": {"axis": {"x": "independent", "y": "independent"}},
 "layer": [
  {"mark": {"type": "line", "strokeWidth": 6, "clip": true},
   "encoding": {
    "x": {"field": "x", "type": "quantitative", "scale": {"domain": [0, 0.44], "nice": false, "zero": false}, "axis": {"orient": "bottom", "values": [0,0.05,0.1,0.15,0.2,0.25,0.3,0.35,0.4], "format": ".2f", "tickSize": -29, "tickWidth": 6, "labelPadding": 47, "title": "ΔURotorCenter/U∞", "titleFontSize": 36, "titlePadding": 30}},
    "y": {"field": "y", "type": "quantitative", "scale": {"domain": [0.3, 0.947], "nice": false, "zero": false}, "axis": {"orient": "left", "values": [0.4,0.6,0.8], "format": ".1f", "tickSize": -29, "tickWidth": 6, "labelPadding": 53, "title": "σz/D", "titleFontSize": 44, "titlePadding": 34}},
    "color": {"field": "s", "type": "nominal", "scale": {"domain": ["I=0.04","I=0.055","I=0.07","I=0.085","I=0.1","I=0.115","I=0.13","I=0.145"], "range": ["#000000","#0e8c8c","#69bd45","#b9539f","#3953a4","#d18fc4","#ed1c24","#4a8bca"]}, "legend": {"title": null, "orient": "none", "legendX": -92, "legendY": -130, "direction": "horizontal", "columns": 8, "symbolType": "M-1,0L1.51,0", "symbolSize": 6084, "symbolStrokeWidth": 6.5, "labelFontSize": 42, "labelFont": "DejaVu Sans", "labelColor": "black", "labelLimit": 400, "columnPadding": 85, "labelOffset": 51, "padding": 8, "strokeColor": "#c8c8c8", "fillColor": "white", "cornerRadius": 8}},
    "order": {"field": "k", "type": "quantitative"}}},
  {"mark": {"type": "point", "opacity": 0},
   "encoding": {
    "x": {"field": "x", "type": "quantitative", "scale": {"domain": [0, 0.44], "nice": false, "zero": false}, "axis": {"orient": "bottom", "values": [0.02,0.04,0.06,0.08,0.12,0.14,0.16,0.18,0.22,0.24,0.26,0.28,0.32,0.34,0.36,0.38,0.42], "labels": false, "tickSize": -14.5, "tickWidth": 5, "title": null}},
    "y": {"field": "y", "type": "quantitative", "scale": {"domain": [0.3, 0.947], "nice": false, "zero": false}, "axis": {"orient": "left", "values": [0.35,0.45,0.5,0.55,0.65,0.7,0.75,0.85,0.9], "labels": false, "tickSize": -14.5, "tickWidth": 5, "title": null}}}},
  {"mark": {"type": "point", "opacity": 0},
   "encoding": {
    "x": {"field": "x", "type": "quantitative", "scale": {"domain": [0, 0.44], "nice": false, "zero": false}, "axis": {"orient": "top", "values": [0,0.05,0.1,0.15,0.2,0.25,0.3,0.35,0.4], "labels": false, "tickSize": -29, "tickWidth": 6, "title": null}},
    "y": {"field": "y", "type": "quantitative", "scale": {"domain": [0.3, 0.947], "nice": false, "zero": false}, "axis": {"orient": "right", "values": [0.4,0.6,0.8], "labels": false, "tickSize": -29, "tickWidth": 6, "title": null}}}},
  {"mark": {"type": "point", "opacity": 0},
   "encoding": {
    "x": {"field": "x", "type": "quantitative", "scale": {"domain": [0, 0.44], "nice": false, "zero": false}, "axis": {"orient": "top", "values": [0.02,0.04,0.06,0.08,0.12,0.14,0.16,0.18,0.22,0.24,0.26,0.28,0.32,0.34,0.36,0.38,0.42], "labels": false, "tickSize": -14.5, "tickWidth": 5, "title": null}},
    "y": {"field": "y", "type": "quantitative", "scale": {"domain": [0.3, 0.947], "nice": false, "zero": false}, "axis": {"orient": "right", "values": [0.35,0.45,0.5,0.55,0.65,0.7,0.75,0.85,0.9], "labels": false, "tickSize": -14.5, "tickWidth": 5, "title": null}}}}
 ]},
{"width": 1288, "height": 606, "transform": [{"filter": "datum.p == 'd'"}],
 "resolve": {"axis": {"x": "independent", "y": "independent"}},
 "layer": [
  {"mark": {"type": "line", "strokeWidth": 6, "clip": true},
   "encoding": {
    "x": {"field": "x", "type": "quantitative", "scale": {"domain": [0, 0.44], "nice": false, "zero": false}, "axis": {"orient": "bottom", "values": [0,0.05,0.1,0.15,0.2,0.25,0.3,0.35,0.4], "format": ".2f", "tickSize": -29, "tickWidth": 6, "labelPadding": 47, "title": "ΔURotorCenter/U∞", "titleFontSize": 36, "titlePadding": 30}},
    "y": {"field": "y", "type": "quantitative", "scale": {"domain": [0, 0.548], "nice": false, "zero": false}, "axis": {"orient": "left", "values": [0,0.1,0.2,0.3,0.4,0.5], "format": ".1f", "tickSize": -29, "tickWidth": 6, "labelPadding": 53, "title": "zc/D", "titleFontSize": 44, "titlePadding": 34}},
    "color": {"field": "s", "type": "nominal", "scale": {"domain": ["I=0.04","I=0.055","I=0.07","I=0.085","I=0.1","I=0.115","I=0.13","I=0.145"], "range": ["#000000","#0e8c8c","#69bd45","#b9539f","#3953a4","#d18fc4","#ed1c24","#4a8bca"]}, "legend": {"title": null, "orient": "none", "legendX": -92, "legendY": -130, "direction": "horizontal", "columns": 8, "symbolType": "M-1,0L1.51,0", "symbolSize": 6084, "symbolStrokeWidth": 6.5, "labelFontSize": 42, "labelFont": "DejaVu Sans", "labelColor": "black", "labelLimit": 400, "columnPadding": 85, "labelOffset": 51, "padding": 8, "strokeColor": "#c8c8c8", "fillColor": "white", "cornerRadius": 8}},
    "order": {"field": "k", "type": "quantitative"}}},
  {"mark": {"type": "point", "opacity": 0},
   "encoding": {
    "x": {"field": "x", "type": "quantitative", "scale": {"domain": [0, 0.44], "nice": false, "zero": false}, "axis": {"orient": "bottom", "values": [0.02,0.04,0.06,0.08,0.12,0.14,0.16,0.18,0.22,0.24,0.26,0.28,0.32,0.34,0.36,0.38,0.42], "labels": false, "tickSize": -14.5, "tickWidth": 5, "title": null}},
    "y": {"field": "y", "type": "quantitative", "scale": {"domain": [0, 0.548], "nice": false, "zero": false}, "axis": {"orient": "left", "values": [0.05,0.15,0.25,0.35,0.45], "labels": false, "tickSize": -14.5, "tickWidth": 5, "title": null}}}},
  {"mark": {"type": "point", "opacity": 0},
   "encoding": {
    "x": {"field": "x", "type": "quantitative", "scale": {"domain": [0, 0.44], "nice": false, "zero": false}, "axis": {"orient": "top", "values": [0,0.05,0.1,0.15,0.2,0.25,0.3,0.35,0.4], "labels": false, "tickSize": -29, "tickWidth": 6, "title": null}},
    "y": {"field": "y", "type": "quantitative", "scale": {"domain": [0, 0.548], "nice": false, "zero": false}, "axis": {"orient": "right", "values": [0,0.1,0.2,0.3,0.4,0.5], "labels": false, "tickSize": -29, "tickWidth": 6, "title": null}}}},
  {"mark": {"type": "point", "opacity": 0},
   "encoding": {
    "x": {"field": "x", "type": "quantitative", "scale": {"domain": [0, 0.44], "nice": false, "zero": false}, "axis": {"orient": "top", "values": [0.02,0.04,0.06,0.08,0.12,0.14,0.16,0.18,0.22,0.24,0.26,0.28,0.32,0.34,0.36,0.38,0.42], "labels": false, "tickSize": -14.5, "tickWidth": 5, "title": null}},
    "y": {"field": "y", "type": "quantitative", "scale": {"domain": [0, 0.548], "nice": false, "zero": false}, "axis": {"orient": "right", "values": [0.05,0.15,0.25,0.35,0.45], "labels": false, "tickSize": -14.5, "tickWidth": 5, "title": null}}}}
 ]}
],
"config": {
 "font": "DejaVu Sans",
 "view": {"stroke": "black", "strokeWidth": 7.5},
 "axis": {"grid": false, "domain": false, "labelFont": "DejaVu Sans", "labelFontSize": 42, "labelColor": "black", "tickColor": "black", "titleFont": "DejaVu Sans", "titleColor": "black", "titleFontWeight": "bold", "zindex": 1, "labelFlush": false, "labelOverlap": false, "labelBound": false}
}
}
